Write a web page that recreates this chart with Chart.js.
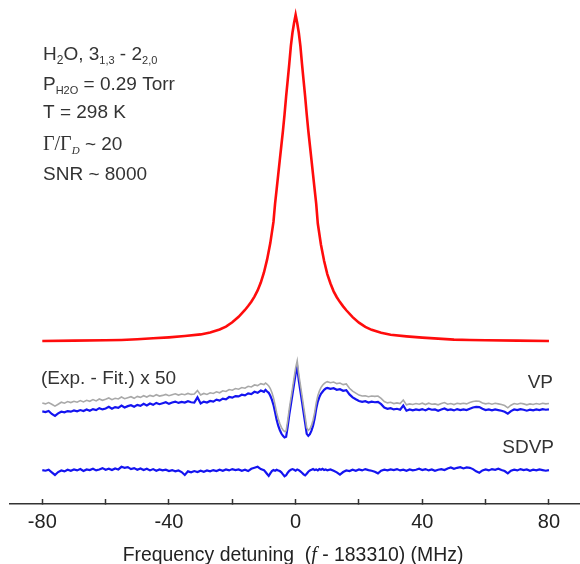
<!DOCTYPE html>
<html>
<head>
<meta charset="utf-8">
<script src="https://cdn.jsdelivr.net/npm/chart.js@4.4.1/dist/chart.umd.min.js"></script>
<style>
  html, body { margin: 0; padding: 0; background: #ffffff; }
  #c { display: block; }
</style>
</head>
<body>
<canvas id="c" width="580" height="564"></canvas>
<script>
// ---------- DATA ----------
// Absorption profile (normalised, peak = 100)
const redX = [-80,-70,-60,-55,-50,-45,-40,-35,-30,-27,-24,-22,-20,-18,-16,-15,-14,-13,-12,-11,-10,-9,-8,-7,-6.5,-6,-5.5,-5,-4.5,-4,-3.5,-3,-2.5,-2,-1.5,-1,-0.5,0,
              0.5,1,1.5,2,2.5,3,3.5,4,4.5,5,5.5,6,6.5,7,8,9,10,11,12,13,14,15,16,18,20,22,24,27,30,35,40,45,50,55,60,70,80];
const redY = [0,0.1,0.2,0.3,0.5,0.8,1.1,1.5,2.0,2.6,3.5,4.4,5.7,7.4,9.5,10.7,12.0,13.6,15.5,17.9,21.0,25.0,30.0,36.5,42.0,46.5,51.0,55.5,60.0,64.5,69.5,75.0,80.0,85.0,90.5,94.5,97.5,100,
              97.5,94.5,90.5,85.0,80.0,75.0,69.5,64.5,60.0,55.5,51.0,46.5,42.0,36.0,29.5,24.5,20.5,17.6,15.2,13.4,11.9,10.6,9.4,7.3,5.6,4.3,3.4,2.5,1.9,1.4,1.0,0.7,0.4,0.3,0.2,0.1,0];

// Residual sampling grid (MHz): 1 MHz steps in the wings, 0.5 MHz steps in the core
const resX = [];
for (let x = -80; x <= 80; x += (x >= -10 && x < 10) ? 0.5 : 1) resX.push(x);

// VP residual (blue), plotted (Exp.-Fit.)x50 with vertical offset
const vpBlue = [
  // -80 .. -10
  -21.6,-21.8,-21.5,-22.4,-23.0,-22.2,-21.7,-21.9,-21.5,-21.7,-21.3,-21.6,-21.2,-21.5,-21.0,-21.4,-20.9,-21.2,-20.6,-21.0,
  -20.7,-20.2,-20.8,-20.3,-20.5,-19.8,-20.4,-20.0,-19.7,-20.2,-19.6,-19.9,-19.3,-19.8,-19.2,-19.6,-19.0,-19.4,-19.1,-18.8,
  -19.3,-18.9,-18.6,-19.0,-18.7,-18.9,-18.5,-18.8,-18.9,-17.3,-19.2,-18.6,-18.9,-18.4,-18.6,-18.0,-18.3,-17.7,-17.9,-17.2,
  -17.4,-16.9,-17.0,-16.5,-16.7,-16.1,-16.3,-15.6,-15.9,-15.2,-15.6,
  // -9.5 .. 9.5
  -15.0,-15.5,-15.9,-16.8,-18.0,-19.6,-21.8,-24.2,-26.0,-27.3,-28.4,-29.1,-29.6,-29.4,-26.2,-22.6,-19.5,-16.4,-13.2,-10.1,
  -8.0,-12.2,-15.4,-18.6,-21.9,-25.1,-28.5,-29.1,-28.6,-27.5,-26.0,-23.8,-20.8,-18.6,-17.2,-16.2,-15.6,-15.0,-14.6,
  // 10 .. 80
  -14.4,-14.7,-14.5,-15.0,-14.8,-15.3,-15.1,-16.4,-17.3,-17.9,-18.4,-18.7,-18.5,-18.9,-18.6,-18.8,-18.7,-19.4,-20.4,-20.8,
  -20.6,-21.0,-20.8,-21.1,-19.8,-21.4,-21.0,-21.3,-21.0,-21.2,-20.9,-21.3,-20.8,-21.1,-21.0,-21.4,-21.0,-20.7,-21.2,-21.0,
  -21.3,-20.9,-21.2,-21.0,-21.2,-20.8,-20.4,-20.2,-20.3,-20.8,-21.2,-21.0,-21.3,-21.0,-21.2,-21.4,-21.7,-22.3,-21.5,-21.0,
  -21.2,-20.9,-21.1,-21.4,-21.1,-21.3,-21.0,-21.2,-20.9,-21.1,-21.0
];

// VP residual (gray)
const vpGray = [
  // -80 .. -10
  -19.0,-19.3,-18.9,-19.4,-20.0,-19.4,-18.8,-19.1,-18.6,-18.9,-18.5,-18.8,-18.3,-18.7,-18.2,-18.5,-18.0,-18.4,-17.8,-18.2,
  -17.9,-17.5,-18.0,-17.6,-17.8,-17.2,-17.7,-17.4,-17.1,-17.6,-17.0,-17.3,-16.8,-17.2,-16.7,-17.0,-16.5,-16.9,-16.7,-16.4,
  -16.8,-16.5,-16.2,-16.6,-16.3,-16.5,-16.1,-16.4,-16.3,-15.2,-16.6,-16.1,-16.4,-15.9,-16.1,-15.6,-15.9,-15.3,-15.5,-14.9,
  -15.1,-14.6,-14.8,-14.3,-14.5,-13.9,-14.1,-13.5,-13.7,-13.1,-13.4,
  // -9.5 .. 9.5
  -12.9,-13.3,-13.8,-14.6,-15.8,-17.4,-19.6,-22.0,-23.9,-25.3,-26.5,-27.3,-27.8,-27.6,-24.4,-20.8,-17.7,-14.6,-11.4,-8.3,
  -6.1,-10.3,-13.5,-16.7,-20.0,-23.2,-26.6,-27.4,-27.0,-25.9,-24.3,-22.0,-19.0,-16.8,-15.4,-14.3,-13.6,-13.1,-12.7,
  // 10 .. 80
  -12.5,-12.8,-12.6,-13.1,-12.9,-13.4,-13.2,-14.5,-15.4,-16.0,-16.6,-16.9,-16.8,-17.1,-16.9,-17.0,-16.9,-17.6,-18.6,-19.0,
  -18.8,-19.2,-19.0,-19.2,-18.1,-19.6,-19.3,-19.5,-19.2,-19.4,-19.1,-19.5,-19.1,-19.4,-19.3,-19.6,-19.2,-18.9,-19.4,-19.2,
  -19.5,-19.1,-19.3,-19.1,-19.3,-18.9,-18.6,-18.4,-18.5,-19.0,-19.3,-19.1,-19.4,-19.1,-19.3,-19.5,-19.8,-20.5,-19.7,-19.2,
  -19.4,-19.1,-19.3,-19.6,-19.3,-19.5,-19.2,-19.4,-19.1,-19.3,-19.2
];

// SDVP residual (blue)
const sdvpBlue = [
  // -80 .. -10
  -39.6,-39.8,-39.5,-40.3,-41.1,-40.2,-39.7,-40.0,-39.5,-39.8,-39.4,-39.7,-39.3,-39.9,-39.4,-39.6,-39.2,-39.7,-39.4,-39.0,
  -39.5,-39.2,-39.6,-39.1,-39.4,-38.6,-38.9,-38.7,-39.3,-39.0,-39.5,-39.1,-39.6,-39.2,-39.7,-39.3,-39.8,-39.4,-39.7,-39.5,
  -39.9,-39.6,-40.0,-39.7,-40.2,-41.1,-40.0,-40.3,-39.9,-40.2,-39.8,-40.1,-39.7,-40.0,-39.6,-39.9,-39.5,-39.8,-39.4,-39.7,
  -39.3,-39.6,-39.4,-39.8,-39.5,-39.9,-39.2,-38.9,-38.6,-39.3,-39.6,
  // -9.5 .. 9.5
  -40.2,-40.8,-41.4,-40.6,-39.9,-39.6,-39.8,-39.5,-39.7,-39.9,-40.3,-40.9,-41.5,-41.2,-40.4,-39.8,-39.5,-39.3,-39.5,-39.8,
  -39.4,-39.6,-40.0,-40.4,-40.9,-41.2,-40.7,-40.1,-39.7,-39.5,-39.3,-39.6,-39.4,-39.7,-39.3,-39.5,-39.2,-39.6,-39.4,
  // 10 .. 80
  -39.7,-39.4,-39.8,-40.3,-41.0,-40.2,-39.7,-39.9,-39.5,-39.8,-39.4,-39.7,-39.3,-39.6,-39.8,-40.1,-40.6,-39.8,-39.5,-39.7,
  -39.4,-39.6,-39.3,-39.7,-39.5,-39.8,-39.4,-39.7,-39.5,-39.2,-39.6,-39.3,-39.7,-39.4,-39.8,-39.5,-39.3,-39.6,-39.1,-38.8,
  -39.2,-38.9,-38.7,-39.1,-38.8,-38.9,-39.3,-40.0,-40.4,-39.7,-39.4,-39.7,-39.3,-39.5,-39.2,-39.6,-39.9,-40.6,-39.8,-39.5,
  -39.7,-39.3,-39.6,-39.4,-39.8,-39.5,-39.7,-39.4,-39.6,-39.8,-39.6
];

// Axis ticks
const tickValues = [-80,-60,-40,-20,0,20,40,60,80];
const tickLabels = ['-80','','-40','','0','','40','','80'];

// ---------- CHART ----------
const SANS = "'Liberation Sans', Arial, Helvetica, sans-serif";
const SERIF = "'Liberation Serif', 'Times New Roman', serif";
const TXT = '#333333';

const pts = (xs, ys) => xs.map((x, i) => ({ x: x, y: ys[i] }));

function drawRich(ctx, x, y, parts) {
  let cx = x;
  for (const p of parts) {
    ctx.font = p.f;
    ctx.fillText(p.t, cx, y + (p.dy || 0));
    cx += ctx.measureText(p.t).width;
  }
  return cx - x;
}
function richWidth(ctx, parts) {
  let w = 0;
  for (const p of parts) { ctx.font = p.f; w += ctx.measureText(p.t).width; }
  return w;
}

const annotations = {
  id: 'annotations',
  afterDraw(chart) {
    const ctx = chart.ctx;
    ctx.save();
    ctx.fillStyle = TXT;
    ctx.textBaseline = 'alphabetic';
    ctx.textAlign = 'left';
    const big = '19px ' + SANS, sub = '11px ' + SANS;
    drawRich(ctx, 43, 60, [
      { t: 'H', f: big }, { t: '2', f: '12px ' + SANS, dy: 4 }, { t: 'O, 3', f: big },
      { t: '1,3', f: sub, dy: 4 }, { t: ' - 2', f: big }, { t: '2,0', f: sub, dy: 4 }
    ]);
    drawRich(ctx, 43, 90, [
      { t: 'P', f: big }, { t: 'H2O', f: sub, dy: 4 }, { t: ' = 0.29 Torr', f: big }
    ]);
    drawRich(ctx, 43, 118, [{ t: 'T = 298 K', f: big }]);
    drawRich(ctx, 43, 150, [
      { t: 'Γ/Γ', f: '20px ' + SERIF }, { t: 'D', f: 'italic 11px ' + SERIF, dy: 4 }, { t: ' ~ 20', f: big }
    ]);
    drawRich(ctx, 43, 180, [{ t: 'SNR ~ 8000', f: big }]);

    drawRich(ctx, 41, 384, [{ t: '(Exp. - Fit.) x 50', f: big }]);
    ctx.textAlign = 'right';
    ctx.font = big;
    ctx.fillText('VP', 553, 388);
    ctx.fillText('SDVP', 554, 453);

    // axis title with italic f
    ctx.textAlign = 'left';
    ctx.fillStyle = '#222222';
    const tparts = [
      { t: 'Frequency detuning  (', f: '19.4px ' + SANS },
      { t: 'f', f: 'italic 20px ' + SERIF },
      { t: ' - 183310) (MHz)', f: '19.4px ' + SANS }
    ];
    const tw = richWidth(ctx, tparts);
    drawRich(ctx, 293 - tw / 2, 561, tparts);
    ctx.restore();
  }
};

new Chart(document.getElementById('c'), {
  type: 'line',
  data: {
    datasets: [
      { label: 'VP (gray)', data: pts(resX, vpGray), borderColor: '#a9a9a9', borderWidth: 1.6 },
      { label: 'VP', data: pts(resX, vpBlue), borderColor: '#1414f0', borderWidth: 2.2 },
      { label: 'SDVP', data: pts(resX, sdvpBlue), borderColor: '#1414f0', borderWidth: 2.2 },
      { label: 'Spectrum', data: pts(redX, redY), borderColor: '#ff0c0c', borderWidth: 2.6 }
    ]
  },
  options: {
    responsive: false,
    animation: false,
    events: [],
    elements: { point: { radius: 0 }, line: { tension: 0, fill: false } },
    layout: { padding: { top: 5, left: 10, right: 0, bottom: 0 } },
    plugins: { legend: { display: false }, tooltip: { enabled: false } },
    scales: {
      x: {
        type: 'linear',
        min: -90.2,
        max: 89.8,
        afterFit: (s) => { s.height = 60; },
        afterBuildTicks: (s) => { s.ticks = tickValues.map(v => ({ value: v })); },
        ticks: {
          callback: (v) => { const i = tickValues.indexOf(v); return i >= 0 ? tickLabels[i] : ''; },
          font: { family: SANS, size: 20 },
          color: '#222222',
          padding: 11,
          maxRotation: 0,
          autoSkip: false
        },
        grid: { drawOnChartArea: false, drawTicks: true, tickLength: -5, color: '#333333', tickWidth: 1.5 },
        border: { display: true, color: '#333333', width: 1.6 }
      },
      y: { display: false, min: -50, max: 103 }
    }
  },
  plugins: [annotations]
});
</script>
</body>
</html>
